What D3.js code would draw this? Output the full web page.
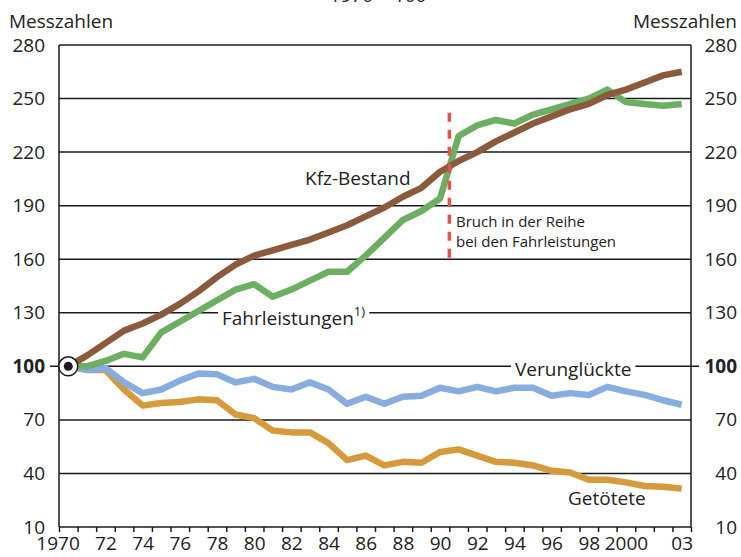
<!DOCTYPE html>
<html lang="de">
<head>
<meta charset="UTF-8">
<title>Messzahlen 1970 = 100</title>
<script src="https://d3js.org/d3.v7.min.js"></script>
<style>
  body { margin: 0; padding: 0; background: #fff; }
  svg { display: block; font-family: "Open Sans", sans-serif; }
  .lbl { font-size: 19px; fill: #222; }
  .tick text { font-size: 19px; fill: #222; font-family: "Open Sans", sans-serif; }
  .grid { stroke: #1a1a1a; stroke-width: 1.5px; }
  .serie { fill: none; stroke-width: 6.5px; stroke-linejoin: round; stroke-linecap: butt; }
</style>
</head>
<body>
<svg width="741" height="557"></svg>
<script>
// Jahre 1970 - 2003
const years = [1970, 1971, 1972, 1973, 1974, 1975, 1976, 1977, 1978, 1979,
               1980, 1981, 1982, 1983, 1984, 1985, 1986, 1987, 1988, 1989,
               1990, 1991, 1992, 1993, 1994, 1995, 1996, 1997, 1998, 1999,
               2000, 2001, 2002, 2003];

// Messzahlen, 1970 = 100
const kfzBestand = [100, 106, 113, 120, 124, 129, 135, 142, 150, 157,
                    162, 165, 168, 171, 175, 179, 184, 189, 195, 200,
                    209, 215, 220, 226, 231, 236, 240, 244, 247, 252,
                    255, 259, 263, 265];
const fahrleistungen = [100, 100, 103, 107, 105, 119, 125, 131, 137, 143,
                        146, 139, 143, 148, 153, 153, 162, 172, 182, 187,
                        194, 229, 235, 238, 236, 241, 244, 247, 250, 255,
                        248, 247, 246, 247];
const verunglueckte = [100, 98, 99, 91, 85, 87, 92, 96, 95.5, 91,
                       93, 88.5, 87, 91, 87, 79, 83, 79, 83, 83.5,
                       88, 86, 88.5, 86, 88, 88, 83.5, 85, 84, 88.5,
                       86, 84, 81, 78.5];
const getoetete = [100, 98, 98, 87, 78, 79.5, 80, 81.5, 81, 73,
                   71, 64, 63, 63, 57, 47.5, 50, 44.5, 46.5, 46,
                   52, 53.5, 50, 46.5, 46, 44.5, 41.5, 40.5, 36.5, 36.5,
                   35, 33, 32.5, 31.5];

// Achsen
const yTicks = [10, 40, 70, 100, 130, 160, 190, 220, 250, 280];
const xLabelYears = [1970, 1972, 1974, 1976, 1978, 1980, 1982, 1984, 1986, 1988,
                     1990, 1992, 1994, 1996, 1998, 2000, 2003];
const xLabels = ["1970", "72", "74", "76", "78", "80", "82", "84", "86", "88",
                 "90", "92", "94", "96", "98", "2000", "03"];
const bruchJahr = 1990.5;      // Bruch in der Reihe
const bruchBereich = [160, 242];

const svg = d3.select("svg");
const x = d3.scaleLinear().domain([1969.5, 2003.5]).range([59, 691]);
const y = d3.scaleLinear().domain([10, 280]).range([527, 45]);

// Titel (oben abgeschnitten)
svg.append("text").attr("class", "lbl")
    .attr("x", 378).attr("y", 2)
    .attr("text-anchor", "middle")
    .text("1970 = 100");

svg.append("text").attr("class", "lbl").attr("x", 9).attr("y", 28).text("Messzahlen");
svg.append("text").attr("class", "lbl").attr("x", 737).attr("y", 28)
    .attr("text-anchor", "end").text("Messzahlen");

// Gitterlinien
svg.append("g").selectAll("line")
    .data(yTicks)
    .enter().append("line")
    .attr("class", "grid")
    .attr("x1", d => d === 100 ? 50 : x(1969.5))
    .attr("x2", d => d === 100 ? 699 : x(2003.5))
    .attr("y1", d => y(d))
    .attr("y2", d => y(d));

// senkrechte Achsenlinien
[1969.5, 2003.5].forEach(v => {
    svg.append("line").attr("class", "grid")
        .attr("x1", x(v)).attr("x2", x(v))
        .attr("y1", y(280)).attr("y2", y(10));
});

// Beschriftungen, die die Gitterlinie unterbrechen
function labelMitHintergrund(tx, ty, text, sup) {
    const g = svg.append("g");
    const bg = g.append("rect").attr("fill", "#fff");
    const t = g.append("text").attr("class", "lbl").attr("x", tx).attr("y", ty).text(text);
    if (sup) {
        t.append("tspan").attr("dy", -9).style("font-size", "13px").text(sup);
    }
    const b = t.node().getBBox();
    bg.attr("x", b.x - 4).attr("y", b.y).attr("width", b.width + 8).attr("height", b.height);
}
labelMitHintergrund(222, 325, "Fahrleistungen", "1)");
labelMitHintergrund(515, 376, "Verunglückte");

// Y-Achsen links und rechts
const yLeft = svg.append("g")
    .attr("transform", `translate(${x(1969.5)},0)`)
    .call(d3.axisLeft(y).tickValues(yTicks).tickSize(0).tickPadding(14));
const yRight = svg.append("g")
    .attr("transform", `translate(${x(2003.5)},0)`)
    .call(d3.axisRight(y).tickValues(yTicks).tickSize(0));
yRight.selectAll(".tick text").attr("text-anchor", "end").attr("x", 737 - x(2003.5));
[yLeft, yRight].forEach(a => {
    a.select(".domain").remove();
    a.selectAll(".tick text").style("font-weight", d => d === 100 ? "bold" : "normal");
});

// X-Achse: Striche zwischen den Jahren
const halbJahre = years.map(d => d - 0.5).concat([2003.5]);
const xTicks = svg.append("g")
    .attr("transform", `translate(0,${y(10)})`)
    .call(d3.axisBottom(x).tickValues(halbJahre).tickFormat("").tickSize(5));
xTicks.select(".domain").remove();
xTicks.selectAll(".tick line").attr("stroke", "#1a1a1a").attr("stroke-width", 1.5);

const xLab = svg.append("g")
    .attr("transform", `translate(0,${y(10)})`)
    .call(d3.axisBottom(x).tickValues(xLabelYears)
        .tickFormat((d, i) => xLabels[i]).tickSize(0).tickPadding(10));
xLab.select(".domain").remove();
xLab.selectAll(".tick text").filter(d => d === 1970)
    .attr("text-anchor", "end").attr("dx", 11);

// Linien
const line = d3.line().x((d, i) => x(years[i])).y(d => y(d));
const serien = [
    { werte: getoetete, farbe: "#d69a3b" },
    { werte: verunglueckte, farbe: "#87ace0" },
    { werte: fahrleistungen, farbe: "#6cae62" },
    { werte: kfzBestand, farbe: "#8b5a3c" }
];
serien.forEach(s => {
    svg.append("path").attr("class", "serie")
        .attr("stroke", s.farbe)
        .attr("d", line(s.werte));
});

// Bruch in der Reihe
svg.append("line")
    .attr("x1", x(bruchJahr)).attr("x2", x(bruchJahr))
    .attr("y1", y(bruchBereich[1])).attr("y2", y(bruchBereich[0]))
    .attr("stroke", "#e8524a").attr("stroke-width", 3.5)
    .attr("stroke-dasharray", "9,8");

svg.append("text").attr("x", 456).attr("y", 227)
    .style("font-size", "15px").style("fill", "#222").text("Bruch in der Reihe");
svg.append("text").attr("x", 456).attr("y", 247)
    .style("font-size", "15px").style("fill", "#222").text("bei den Fahrleistungen");

// Linienbeschriftungen
svg.append("text").attr("class", "lbl").attr("x", 305).attr("y", 185).text("Kfz-Bestand");
svg.append("text").attr("class", "lbl").attr("x", 568).attr("y", 505).text("Getötete");

// Ausgangspunkt 1970 = 100
svg.append("circle")
    .attr("cx", x(1970)).attr("cy", y(100)).attr("r", 9.5)
    .attr("fill", "#fff").attr("stroke", "#1a1a1a").attr("stroke-width", 1.5);
svg.append("circle")
    .attr("cx", x(1970)).attr("cy", y(100)).attr("r", 4.5)
    .attr("fill", "#1a1a1a");
</script>
</body>
</html>
